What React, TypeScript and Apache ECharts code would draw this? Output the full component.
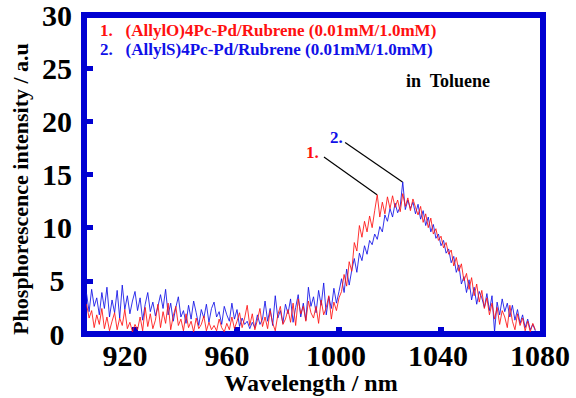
import React, { useEffect, useRef } from "react";
import * as echarts from "echarts";

const START_NM = 901;
const STEP_NM = 1;

const blueValues = [
  3.8, 2.1, 4.2, 2.6, 3.4, 1.8, 3.9, 2.4, 4.4, 1.6,
  3.2, 2.0, 4.1, 1.5, 4.6, 2.3, 3.6, 1.9, 3.1, 4.0,
  2.2, 3.4, 1.3, 2.8, 3.9, 2.1, 3.0, 1.7, 2.6, 3.7,
  2.4, 4.2, 1.8, 2.9, 1.2, 2.5, 3.5, 1.6, 2.2, 1.0,
  2.7, 1.4, 3.1, 2.0, 0.8, 2.3, 1.5, 2.8, 1.1, 2.4,
  3.0, 1.6, 2.1, 0.9, 2.6, 1.8, 1.2, 2.9, 1.4, 2.3,
  0.7, 1.5, 0.9, 1.2, 0.5, 1.1, 0.6, 1.8, 0.9, 1.4,
  3.1, 1.2, 2.4, 0.8, 3.6, 1.5, 2.2, 1.0, 2.8, 1.9,
  3.3, 1.1, 2.5, 3.7, 1.6, 2.9, 1.3, 4.4, 2.6, 3.5,
  2.0, 4.1, 2.7, 4.8, 1.8, 3.5, 2.4, 4.3, 2.9, 4.0,
  5.2, 3.9, 6.1, 4.6, 6.0, 7.1, 5.8, 7.6, 6.9, 8.3,
  7.5, 8.8, 8.4, 9.4, 8.9, 10.1, 9.6, 11.2, 10.6, 11.8,
  11.0, 12.3, 11.4, 12.0, 14.3, 11.7, 12.6, 11.8, 12.4, 11.3,
  12.2, 10.8, 11.6, 10.2, 11.0, 9.6, 10.3, 9.0, 9.4, 8.3,
  8.8, 7.6, 8.0, 6.7, 7.3, 5.8, 6.5, 4.7, 5.4, 3.9,
  5.1, 3.2, 4.4, 2.8, 4.0, 3.4, 2.5, 3.8, 2.2, 3.6,
  0.2, 3.0, 1.8, 3.3, 2.1, 2.9, 1.6, 2.7, 1.3, 2.3,
  1.0, 1.8, 0.6, 1.4, 0.4, 0.9, 0.3,
];

const redValues = [
  2.8, 1.5, 2.2, 0.6, 1.8, 0.9, 2.4, 0.5, 1.6, 0.3,
  1.2, 2.0, 0.4, 1.5, 0.8, 2.3, 0.5, 1.1, 0.2, 0.9,
  0.4, 1.6, 0.3, 2.5, 0.7, 1.9, 0.5, 1.3, 2.8, 0.6,
  2.1, 1.0, 2.9, 0.4, 1.7, 2.6, 0.8, 1.4, 0.3, 1.9,
  0.6, 1.2, 0.2, 1.5, 0.5, 0.9, 1.7, 0.3, 1.1, 0.4,
  0.8, 0.3, 1.4, 0.6, 0.2, 1.0, 0.4, 1.6, 0.5, 1.2,
  2.0, 0.6, 1.5, 2.7, 0.8, 1.9, 0.4, 1.3, 2.4, 0.7,
  1.6, 0.5, 2.2, 1.0, 0.3, 1.8, 2.6, 0.9, 1.4, 2.3,
  1.1, 2.9, 0.8, 3.3, 1.9, 2.6, 1.2, 3.1, 2.0, 1.5,
  2.6, 1.0, 3.2, 1.8, 2.5, 3.6, 1.4, 3.0, 2.2, 3.4,
  4.0, 5.6, 4.5, 6.8, 5.9, 8.6, 7.8, 10.2, 9.1, 10.6,
  9.6, 11.1, 10.0, 11.6, 13.1, 11.0, 12.4, 11.3, 12.9, 11.8,
  13.0, 11.9, 12.6, 11.5, 13.2, 12.0, 12.8, 11.6, 12.7, 11.9,
  11.2, 12.0, 10.5, 11.3, 10.0, 10.9, 9.4, 9.9, 8.8, 9.2,
  8.1, 8.6, 7.5, 7.9, 6.4, 7.2, 5.9, 6.6, 5.0, 5.7,
  4.2, 5.3, 3.6, 4.7, 3.0, 4.1, 2.4, 3.4, 1.8, 2.9,
  1.4, 2.5, 0.9, 2.2, 1.6, 0.6, 2.7, 1.2, 0.4, 1.9,
  0.8, 1.5, 0.3, 1.2, 0.2, 1.0, 0.4,
];

const xTicks = [920, 960, 1000, 1040, 1080];
const yTicks = [0, 5, 10, 15, 20, 25, 30];

const legendLabels = [
  "1.   (AllylO)4Pc-Pd/Rubrene (0.01mM/1.0mM)",
  "2.   (AllylS)4Pc-Pd/Rubrene (0.01mM/1.0mM)",
];
const solventLabel = "in  Toluene";
const xName = "Wavelength / nm";
const yName = "Phosphorescence intensity / a.u";

// annotation leader lines: [label point, peak point] in data coords
const leader1 = [[994.1, 16.65], [1014.9, 13.1]];
const leader2 = [[1002.4, 18.0], [1024.9, 14.3]];

const FRAME = "#0000d2";
const RED = "#ff1010";
const BLUE = "#1010e8";
const SERIF = "'Liberation Serif', 'Times New Roman', serif";

export default function App() {
  const ref = useRef<HTMLDivElement>(null);
  useEffect(() => {
    if (!ref.current) return;
    const chart = echarts.init(ref.current, null, { renderer: "svg" });
    const blueData = blueValues.map((v, i) => [START_NM + i * STEP_NM, v]);
    const redData = redValues.map((v, i) => [START_NM + i * STEP_NM, v]);
    const tickFont = { fontFamily: SERIF, fontWeight: "bold" as const, fontSize: 30, color: "#000" };
    chart.setOption({
      animation: false,
      backgroundColor: "#fff",
      grid: {
        left: 84,
        top: 12,
        right: 33,
        bottom: 64,
        show: true,
        borderColor: FRAME,
        borderWidth: 6,
        backgroundColor: "transparent",
      },
      xAxis: {
        type: "value",
        min: 900,
        max: 1080,
        axisLine: { show: false },
        splitLine: { show: false },
        axisTick: {
          show: true,
          inside: true,
          length: 7,
          customValues: xTicks,
          lineStyle: { color: FRAME, width: 6 },
        },
        axisLabel: {
          customValues: xTicks,
          margin: 6,
          ...tickFont,
          formatter: (v: number) => (v >= 1000 ? `{b|${v}}` : `{a|${v}}`),
          rich: {
            a: { ...tickFont, padding: [0, 20, 0, 0] },
            b: { ...tickFont, padding: [0, 6, 0, 0] },
          },
        },
      },
      yAxis: {
        type: "value",
        min: 0,
        max: 30,
        interval: 5,
        axisLine: { show: false },
        splitLine: { show: false },
        axisTick: {
          show: true,
          inside: true,
          length: 9,
          customValues: yTicks,
          lineStyle: { color: FRAME, width: 5 },
        },
        axisLabel: {
          customValues: yTicks,
          margin: 27,
          align: "center",
          verticalAlign: "middle",
          padding: [14, 0, 0, 0],
          ...tickFont,
        },
      },
      series: [
        {
          type: "line",
          data: blueData,
          showSymbol: false,
          lineStyle: { color: BLUE, width: 1, opacity: 0.85 },
          itemStyle: { color: BLUE },
          z: 2,
        },
        {
          type: "line",
          data: redData,
          showSymbol: false,
          lineStyle: { color: RED, width: 1, opacity: 0.85 },
          itemStyle: { color: RED },
          z: 3,
          markLine: {
            silent: true,
            symbol: ["none", "none"],
            label: { show: false },
            lineStyle: { color: "#000", width: 1.2, type: "solid" },
            data: [
              [{ coord: leader1[0] }, { coord: leader1[1] }],
              [{ coord: leader2[0] }, { coord: leader2[1] }],
            ],
          },
        },
      ],
      graphic: [
        {
          type: "text",
          left: 100,
          top: 22,
          style: { text: legendLabels[0], fill: RED, font: `bold 17px ${SERIF}` },
        },
        {
          type: "text",
          left: 100,
          top: 41,
          style: { text: legendLabels[1], fill: BLUE, font: `bold 17px ${SERIF}` },
        },
        {
          type: "text",
          left: 406,
          top: 72,
          style: { text: solventLabel, fill: "#000", font: `bold 18px ${SERIF}` },
        },
        {
          type: "text",
          left: 306,
          top: 144,
          style: { text: "1.", fill: RED, font: `bold 17px ${SERIF}` },
        },
        {
          type: "text",
          left: 330,
          top: 129,
          style: { text: "2.", fill: BLUE, font: `bold 17px ${SERIF}` },
        },
        {
          type: "text",
          x: 311,
          y: 383,
          style: {
            text: xName,
            fill: "#000",
            font: `bold 24px ${SERIF}`,
            textAlign: "center",
            textVerticalAlign: "middle",
          },
        },
        {
          type: "text",
          x: 20,
          y: 189,
          rotation: Math.PI / 2,
          style: {
            text: yName,
            fill: "#000",
            font: `bold 22px ${SERIF}`,
            textAlign: "center",
            textVerticalAlign: "middle",
          },
        },
      ],
    });
    return () => chart.dispose();
  }, []);
  return (
    <div
      ref={ref}
      style={{ position: "fixed", left: 0, top: 0, width: 576, height: 398 }}
    />
  );
}
